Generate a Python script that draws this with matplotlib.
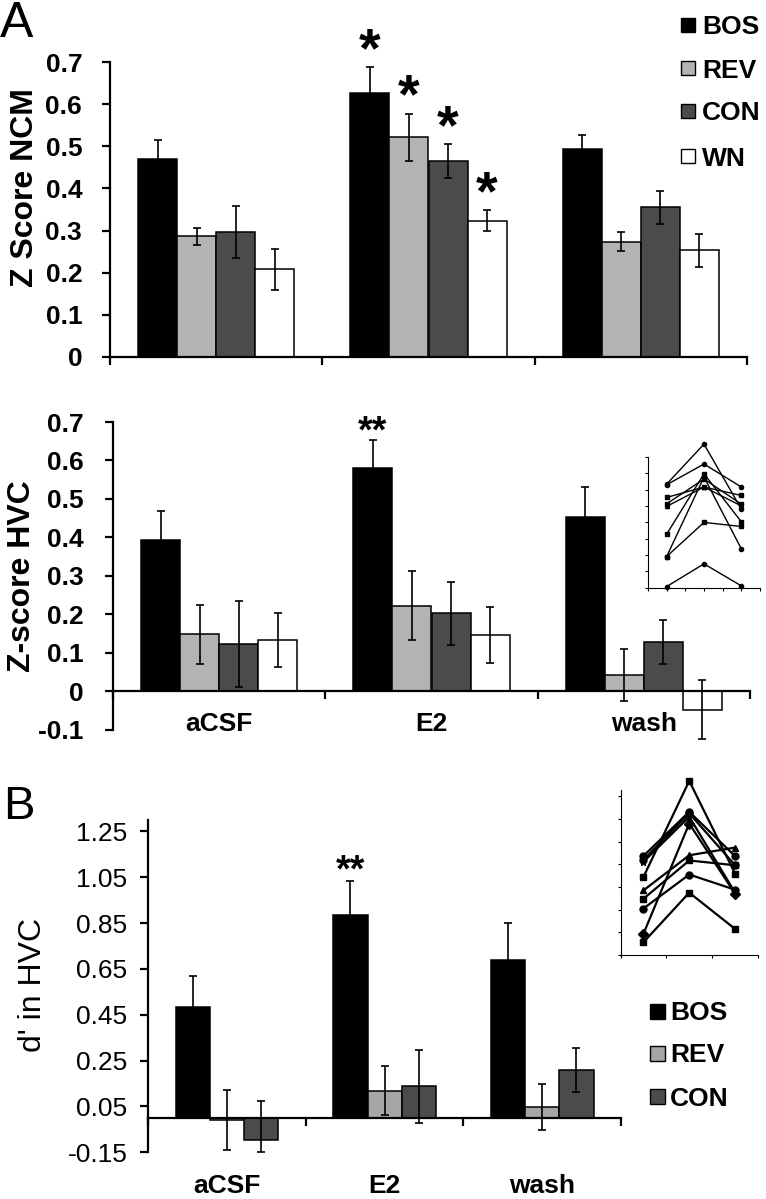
import numpy as np
import matplotlib
matplotlib.use("Agg")
import matplotlib.pyplot as plt
from matplotlib.patches import Rectangle

plt.rcParams['font.family'] = ['Liberation Sans', 'DejaVu Sans']

W, H = 766, 1199

conditions = ['aCSF', 'E2', 'wash']
stimuli = ['BOS', 'REV', 'CON', 'WN']
colors = ['#000000', '#b3b3b3', '#4b4b4b', '#ffffff']
colors_b = ['#000000', '#a6a6a6', '#4b4b4b']

# A top: Z score NCM (rows = BOS, REV, CON, WN ; cols = aCSF, E2, wash)
ncm_mean = [[0.471, 0.626, 0.494],
            [0.286, 0.521, 0.274],
            [0.296, 0.465, 0.355],
            [0.208, 0.323, 0.253]]
ncm_err = [[0.045, 0.062, 0.033],
           [0.021, 0.056, 0.023],
           [0.062, 0.040, 0.040],
           [0.049, 0.025, 0.040]]
ncm_stars = [(1, 0, '*'), (1, 1, '*'), (1, 2, '*'), (1, 3, '*')]

# A bottom: Z-score HVC
hvc_mean = [[0.393, 0.580, 0.454],
            [0.148, 0.222, 0.042],
            [0.122, 0.202, 0.128],
            [0.132, 0.146, -0.048]]
hvc_err = [[0.076, 0.073, 0.076],
           [0.077, 0.090, 0.067],
           [0.112, 0.083, 0.058],
           [0.070, 0.073, 0.076]]
hvc_stars = [(1, 0, '**')]

# B: d' in HVC (BOS, REV, CON)
dp_mean = [[0.484, 0.887, 0.691],
           [-0.008, 0.119, 0.046],
           [-0.095, 0.138, 0.207]]
dp_err = [[0.134, 0.149, 0.160],
          [0.131, 0.106, 0.100],
          [0.167, 0.160, 0.096]]
dp_stars = [(1, 0, '**')]

# insets: individual sites across aCSF / E2 / wash
inset_a_lines = [[6.34, 8.79, 4.81], [6.30, 7.57, 6.16], [5.52, 6.16, 5.64],
                 [5.13, 6.65, 5.11], [4.97, 6.16, 5.00], [3.27, 6.97, 4.03],
                 [1.90, 6.77, 2.37], [1.90, 3.99, 3.74], [0.06, 1.45, 0.10]]
inset_a_markers = ['o', 'o', 's', 's', '^', 's', 'o', 's', 'o']
inset_b_lines = [[0.56, 2.75, 1.15], [0.93, 5.80, 2.70], [2.05, 3.55, 2.88],
                 [2.48, 4.17, 3.96], [2.85, 4.40, 4.74], [3.44, 7.68, 3.59],
                 [4.11, 6.10, 2.75], [4.37, 6.32, 4.36], [4.20, 6.25, 3.96]]
inset_b_markers = ['s', 'D', 'o', 's', '^', 's', '*', 'o', 'o']


def px_axes(fig, l, t, r, b):
    return fig.add_axes([l / W, 1 - b / H, (r - l) / W, (b - t) / H])


def bar_panel(ax, means, errs, cols, width, ylo=None):
    n = len(means)
    x = np.arange(len(conditions)) + 0.5
    for j in range(n):
        xs = x + (j - (n - 1) / 2) * width
        m = np.array(means[j])
        e = np.array(errs[j])
        ax.bar(xs, m, width, color=cols[j], edgecolor='black', linewidth=1.1, zorder=2)
        lo = e if ylo is None else np.minimum(e, m - ylo)
        ax.errorbar(xs, m, yerr=[lo, e], fmt='none', ecolor='black',
                    elinewidth=1.2, capsize=3, capthick=1.2, zorder=3, clip_on=False)
    ax.set_xlim(0, len(conditions))
    ax.set_xticks(range(len(conditions) + 1))
    ax.set_xticklabels([])
    for s in ['top', 'right']:
        ax.spines[s].set_visible(False)
    for s in ['left', 'bottom']:
        ax.spines[s].set_linewidth(1.6)
    ax.tick_params(axis='x', direction='out', length=6, width=1.6)
    ax.tick_params(axis='y', direction='out', length=6, width=1.6)


def add_stars(ax, means, errs, stars, width, fs, off):
    n = len(means)
    for c, j, s in stars:
        xs = c + 0.5 + (j - (n - 1) / 2) * width
        y = means[j][c] + errs[j][c] + off
        ax.annotate(s, xy=(xs, y), xytext=(0, -0.22 * fs), textcoords='offset points',
                    ha='center', va='center', fontsize=fs, fontweight='bold',
                    annotation_clip=False)


def fig_legend(fig, labels, cols, xsq, xtxt, ys, size):
    for lab, c, y in zip(labels, cols, ys):
        fig.add_artist(Rectangle(((xsq - size / 2) / W, 1 - (y + size / 2) / H),
                                 size / W, size / H, transform=fig.transFigure,
                                 facecolor=c, edgecolor='black', linewidth=1.0))
        fig.text(xtxt / W, 1 - y / H, lab, ha='left', va='center_baseline',
                 fontsize=19, fontweight='bold')


def inset(ax, lines, markers, xs, lw, ms):
    for vals, mk in zip(lines, markers):
        ax.plot(xs, vals, color='black', lw=lw, marker=mk, ms=ms,
                clip_on=False)
    for s in ['top', 'right']:
        ax.spines[s].set_visible(False)
    ax.tick_params(direction='out', length=2.5, width=0.8,
                   labelleft=False, labelbottom=False)
    ax.patch.set_alpha(0)


fig = plt.figure(figsize=(W / 100, H / 100), dpi=100)

# ---- A top ----
wa = 0.184
ax1 = px_axes(fig, 110, 62, 747, 357)
bar_panel(ax1, ncm_mean, ncm_err, colors, wa)
ax1.set_ylim(0, 0.7)
ax1.set_yticks(np.arange(0, 0.71, 0.1))
ax1.set_yticklabels([f'{v:g}' for v in np.round(np.arange(0, 0.71, 0.1), 2)],
                    fontsize=19, fontweight='bold')
ax1.tick_params(axis='y', pad=14)
add_stars(ax1, ncm_mean, ncm_err, ncm_stars, wa, 40, 0.065)
fig.text(25 / W, 1 - 188 / H, 'Z Score NCM', rotation=90, ha='center', va='center',
         fontsize=23, fontweight='bold')

# ---- A bottom ----
ax2 = px_axes(fig, 113, 422, 750, 729.5)
bar_panel(ax2, hvc_mean, hvc_err, colors, wa)
ax2.set_ylim(-0.1, 0.7)
ax2.spines['bottom'].set_position(('data', 0))
yt = np.round(np.arange(-0.1, 0.71, 0.1), 2)
ax2.set_yticks(yt)
ax2.set_yticklabels([f'{v:g}' for v in yt], fontsize=19, fontweight='bold')
ax2.tick_params(axis='y', pad=15)
for i, c in enumerate(conditions):
    ax2.text(i + 0.5, -0.105, c, ha='center', va='baseline', fontsize=19,
             fontweight='bold', clip_on=False)
add_stars(ax2, hvc_mean, hvc_err, hvc_stars, wa, 27, 0.04)
fig.text(22 / W, 1 - 576 / H, 'Z-score HVC', rotation=90, ha='center', va='center',
         fontsize=23, fontweight='bold')

ins_a = px_axes(fig, 648, 457, 760, 587.5)
inset(ins_a, inset_a_lines, inset_a_markers, [1, 3, 5], 1.0, 3)
ins_a.set_xlim(0, 6)
ins_a.set_ylim(0, 8)
ins_a.set_xticks(range(7))
ins_a.set_yticks(range(9))

# ---- B ----
wb = 0.2175
ax3 = px_axes(fig, 148.3, 820, 621, 1152.3)
bar_panel(ax3, dp_mean, dp_err, colors_b, wb, ylo=-0.15)
ax3.set_ylim(-0.15, 1.30)
ax3.spines['bottom'].set_position(('data', 0))
yt = np.round(np.arange(-0.15, 1.26, 0.2), 2)
ax3.set_yticks(yt)
ax3.set_yticklabels([f'{v:.2f}' for v in yt], fontsize=19)
ax3.tick_params(axis='y', pad=9)
for i, c in enumerate(conditions):
    ax3.text(i + 0.5, -0.1225, c, transform=ax3.get_xaxis_transform(), ha='center',
             va='baseline', fontsize=19, fontweight='bold', clip_on=False)
add_stars(ax3, dp_mean, dp_err, dp_stars, wb, 27, 0.075)
fig.text(33 / W, 1 - 985 / H, "d' in HVC", rotation=90, ha='center', va='center',
         fontsize=23)

ins_b = px_axes(fig, 620.5, 790, 758, 955)
inset(ins_b, inset_b_lines, inset_b_markers, [0.5, 1.5, 2.5], 1.6, 5)
ins_b.set_xlim(0, 3)
ins_b.set_ylim(0, 7.28)
ins_b.set_xticks(range(4))
ins_b.set_yticks(range(8))

# legends
fig_legend(fig, stimuli, colors, 688, 702, [25, 68, 111, 156], 14)
fig_legend(fig, stimuli[:3], colors_b, 657, 670, [1011, 1053, 1096], 15)

# panel letters
fig.text(0.0, 1 - 1 / H, 'A', ha='left', va='top', fontsize=36)
fig.text(3 / W, 1 - 785 / H, 'B', ha='left', va='top', fontsize=34)

fig.savefig('out.png', dpi=100)
